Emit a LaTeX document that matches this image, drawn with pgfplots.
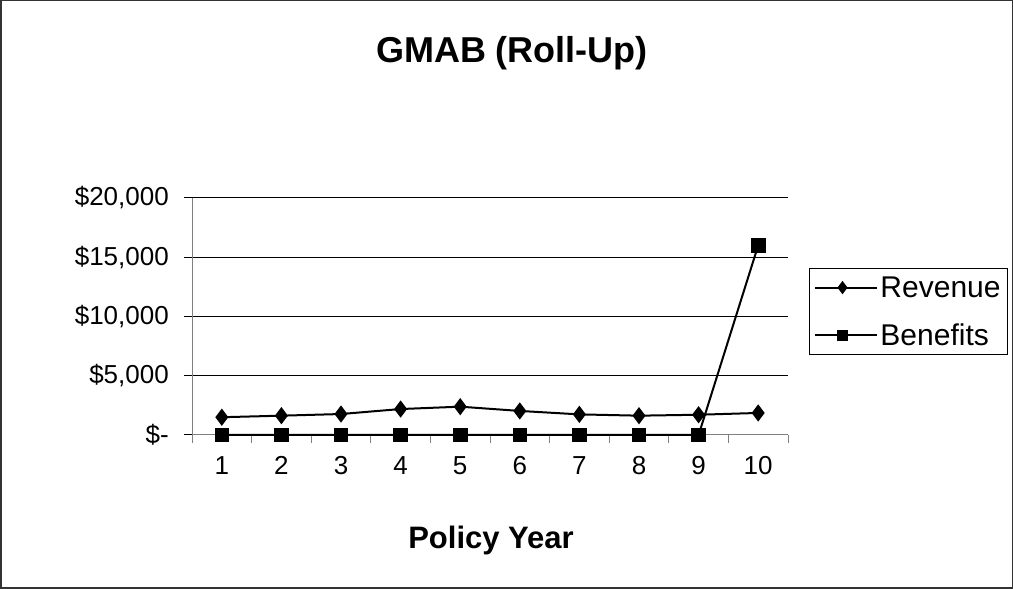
\documentclass[border=0pt]{standalone}
\usepackage{pgfplots}
\pgfplotsset{compat=1.18}
\usepackage{fontspec}
\setmainfont{Liberation Sans}
\pgfplotstableread{
year revenue benefits
1 1500 0
2 1630 0
3 1770 0
4 2190 0
5 2390 0
6 2030 0
7 1740 0
8 1630 0
9 1710 0
10 1860 16000
}\datatable
\begin{document}
\begin{tikzpicture}[x=1pt,y=1pt]
\begin{axis}[
  at={(192pt,154pt)}, anchor=south west,
  scale only axis, width=596pt, height=237pt,
  xmin=0.5, xmax=10.5, ymin=0, ymax=20000,
  scaled y ticks=false,
  axis x line*=bottom, axis y line*=left,
  axis line style={draw=gray, line width=1pt, -},
  xtick={1,...,10},
  xticklabels={1,2,3,4,5,6,7,8,9,10},
  major x tick style={draw=none},
  minor xtick={0.5,1.5,...,10.5},
  minor x tick style={draw=gray, line width=1pt},
  minor tick length=8pt,
  ytick={0,5000,10000,15000,20000},
  yticklabels={{\$-},{\$5,000},{\$10,000},{\$15,000},{\$20,000}},
  major y tick style={draw=black, line width=1pt},
  major tick length=8pt,
  tick align=outside,
  ymajorgrids, grid style={black, line width=1pt},
  xticklabel style={anchor=base, yshift=-32pt, font=\fontsize{26}{30}\selectfont},
  yticklabel style={anchor=east, inner sep=0pt, xshift=-15pt, font=\fontsize{26}{30}\selectfont},
  clip=false,
  legend style={at={(axis description cs:1.0352,0.7046)}, anchor=north west,
    draw=black, line width=1pt, inner xsep=5pt, inner ysep=6pt,
    font=\fontsize{30}{34}\selectfont, row sep=21pt},
  legend cell align=left,
  legend image code/.code={\draw[mark repeat=2, mark phase=2, #1, line width=2pt, mark options={scale=0.72}] plot coordinates {(0pt,0pt) (27pt,0pt) (54pt,0pt)};
    \path (54pt,0pt) -- (62pt,0pt);},
]
\addplot[black, line width=2pt, mark=diamond*, mark size=7pt, mark options={solid}] table[x=year,y=revenue] {\datatable};
\addlegendentry{Revenue}
\addplot[black, line width=2pt, mark=square*, mark size=6.3pt, mark options={solid}] table[x=year,y=benefits] {\datatable};
\addlegendentry{Benefits}
\end{axis}
\node[font=\bfseries\fontsize{36}{40}\selectfont] at (512,536) {GMAB (Roll-Up)};
\node[font=\bfseries\fontsize{31}{35}\selectfont] at (491,49) {Policy Year};
\draw[black!80, line width=1.5pt] (0.75,0.75) rectangle (1012.25,588.25);
\pgfresetboundingbox
\path (0,0) rectangle (1013,589);
\end{tikzpicture}
\end{document}
